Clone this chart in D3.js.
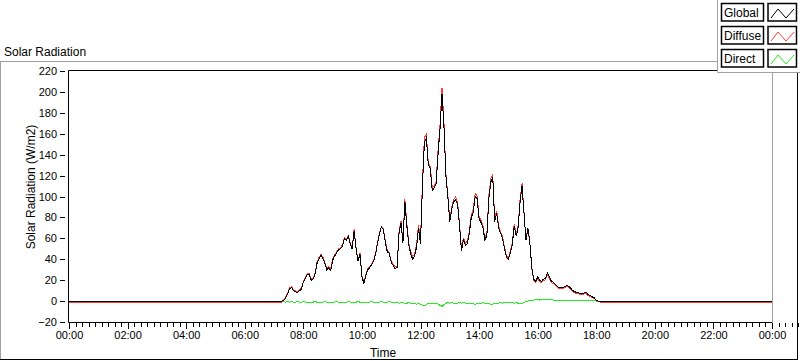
<!DOCTYPE html>
<meta charset="utf-8">
<style>
body { margin: 0; background: #fff; }
svg { display: block; font-family: "Liberation Sans", Arial, sans-serif; }
.tick text { fill: #000; }
</style>
<svg width="800" height="361"></svg>
<script src="https://d3js.org/d3.v7.min.js"></script>
<script>

// samples every 4 minutes, starting at 07:12
var dayStart = "07:12";
var stepMinutes = 4;

var globalDay = [
  0, 0, 1, 3, 7, 12, 13, 10, 9, 8, 10, 11,
  18, 22, 25, 25, 20, 21, 26, 36, 40, 44, 41, 36, 30, 32, 29,
  39, 43, 46, 49, 50, 52, 60, 58, 62, 55, 50, 67, 50, 38, 45,
  23, 17, 24, 30, 32, 35, 38, 45, 55, 64, 71, 68, 56, 47, 46,
  37, 34, 31, 32, 64, 75, 56, 95, 72, 54, 45, 40, 43, 52, 70,
  55, 110, 152, 156, 130, 127, 106, 108, 112, 141, 165, 198, 168, 120, 100,
  76, 88, 95, 97, 92, 72, 48, 59, 53, 55, 65, 80, 85, 100, 98,
  79, 75, 70, 58, 63, 98, 114, 118, 76, 84, 70, 65, 60, 50, 42,
  40, 46, 54, 72, 62, 70, 95, 110, 84, 58, 70, 56, 32, 21, 19,
  23, 20, 19, 21, 22, 27, 23, 19, 18, 16, 14, 13, 13, 13, 14,
  15, 14, 12, 10, 9, 8, 8, 7, 7, 8, 8, 6, 5, 4, 3,
  1, 0, 0, 0
];

var diffuseDay = [
  -1, -1, 1.5, 4, 7.5, 13, 13.5, 11, 10, 8.5, 11, 12,
  18.5, 23, 26, 26.5, 21, 22, 26.5, 37, 41.5, 45, 42, 36.5, 31, 33, 30.5,
  40, 44, 46.5, 50, 51, 53.5, 61, 59, 62.5, 56, 51, 68.5, 51, 38.5, 46,
  24, 18, 25.5, 31, 33, 35.5, 39, 46, 56.5, 65, 71.5, 69, 57.5, 48, 46.5,
  38, 35, 32.5, 33, 66, 76.5, 57, 97.5, 74, 55.5, 47, 42.5, 45, 55, 72.5,
  58, 114, 156.5, 159.5, 132, 129, 108.5, 110, 114, 144, 169, 204, 171.5, 122, 101.5,
  78, 89.5, 97, 99.5, 94, 73.5, 50, 60.5, 55, 57.5, 67, 82, 87.5, 103, 100.5,
  81, 77, 71.5, 60, 65, 100.5, 117, 121, 78, 86.5, 72, 66.5, 62, 51.5, 43.5,
  41, 47.5, 55.5, 74, 63.5, 72, 97.5, 112.5, 85.5, 58.5, 70, 55.5, 31, 20, 17.5,
  21.5, 19, 17.5, 19.5, 20.5, 25.5, 21.5, 17.5, 17, 15, 13, 12, 12, 12, 13,
  14, 13, 11, 9, 8, 7, 7, 6, 6, 7, 7, 5, 4, 3.5, 2.5,
  0.5, -0.5, -1, -1
];

var directDay = [
  0, 0, -0.5, -1, -0.5, -1, -0.5, -1, -1, -0.5, -1, -1,
  -0.5, -1, -1, -1.5, -1, -1, -0.5, -1, -1.5, -1, -1, -0.5, -1, -1, -1.5,
  -1, -1, -0.5, -1, -1, -1.5, -1, -1, -0.5, -1, -1, -1.5, -1, -0.5, -1,
  -1, -1, -1.5, -1, -1, -0.5, -1, -1, -1.5, -1, -0.5, -1, -1.5, -1, -0.5,
  -1, -1, -1.5, -1, -2, -1.5, -1, -2.5, -2, -1.5, -2, -2.5, -2, -3, -2.5,
  -3, -4, -4.5, -3.5, -2, -2, -2.5, -2, -2, -3, -4, -5, -3.5, -2, -1.5,
  -2, -1.5, -2, -2.5, -2, -1.5, -2, -1.5, -2, -2.5, -2, -2, -2.5, -3, -2.5,
  -2, -2, -1.5, -2, -2, -2.5, -3, -3, -2, -2.5, -2, -1.5, -2, -1.5, -1.5,
  -1, -1.5, -1.5, -2, -1.5, -2, -2.5, -2.5, -1.5, -0.5, 0, 0.5, 1, 1, 1.5,
  1.5, 1, 1.5, 1.5, 1.5, 1.5, 1.5, 1.5, 1, 1, 1, 1, 1, 1, 1,
  1, 1, 1, 1, 1, 1, 1, 1, 1, 1, 1, 1, 1, 0.5, 0.5,
  0, 0, 0, 0
];

// night-time readings
var nightGlobal = 0, nightDiffuse = -1, nightDirect = 0;

var seriesNames = ["Global", "Diffuse", "Direct"];
var seriesColors = ["#000000", "#ff3b3b", "#22ee22"];

var xTickHours = [0, 2, 4, 6, 8, 10, 12, 14, 16, 18, 20, 22, 24];
var xTickLabels = ["00:00", "02:00", "04:00", "06:00", "08:00", "10:00", "12:00",
                   "14:00", "16:00", "18:00", "20:00", "22:00", "00:00"];
var yTicks = [-20, 0, 20, 40, 60, 80, 100, 120, 140, 160, 180, 200, 220];

var svg = d3.select("svg"),
    plot = {left: 69, right: 772, top: 71, bottom: 322};

var x = d3.scaleLinear().domain([0, 24]).range([plot.left, plot.right]);
var y = d3.scaleLinear().domain([-20, 220]).range([plot.bottom, plot.top]);

var startHour = +dayStart.split(":")[0] + dayStart.split(":")[1] / 60;

function buildSeries(vals, night) {
  var pts = [{t: 0, v: night}];
  vals.forEach(function(v, i) { pts.push({t: startHour + i * stepMinutes / 60, v: v}); });
  pts.push({t: 24, v: night});
  return pts;
}

// panel frame
svg.append("line").attr("x1", 0).attr("x2", 717).attr("y1", 61.5).attr("y2", 61.5).attr("stroke", "#a0a0a0");
svg.append("line").attr("x1", 0.5).attr("x2", 0.5).attr("y1", 61).attr("y2", 360).attr("stroke", "#a0a0a0");
svg.append("line").attr("x1", 0).attr("x2", 798).attr("y1", 359.5).attr("y2", 359.5).attr("stroke", "#000");
svg.append("line").attr("x1", 797.5).attr("x2", 797.5).attr("y1", 72).attr("y2", 360).attr("stroke", "#000");

svg.append("text")
    .attr("x", 4).attr("y", 56)
    .attr("font-size", "12px")
    .text("Solar Radiation");

// plot area
svg.append("clipPath").attr("id", "clip")
  .append("rect")
    .attr("x", plot.left).attr("y", plot.top - 1)
    .attr("width", plot.right - plot.left).attr("height", plot.bottom - plot.top + 2);

var line = d3.line()
    .x(function(d) { return x(d.t); })
    .y(function(d) { return y(d.v); });

var series = [
  buildSeries(directDay, nightDirect),
  buildSeries(diffuseDay, nightDiffuse),
  buildSeries(globalDay, nightGlobal)
];
var drawColors = [seriesColors[2], seriesColors[1], seriesColors[0]];

svg.append("g")
    .attr("clip-path", "url(#clip)")
  .selectAll("path")
  .data(series)
  .enter().append("path")
    .attr("d", line)
    .attr("fill", "none")
    .attr("stroke", function(d, i) { return drawColors[i]; })
    .attr("stroke-width", 1)
    .attr("shape-rendering", "crispEdges");

// plot borders
svg.append("line").attr("x1", plot.left - 0.5).attr("x2", plot.right).attr("y1", plot.top - 0.5).attr("y2", plot.top - 0.5).attr("stroke", "#000");
svg.append("line").attr("x1", plot.left - 0.5).attr("x2", plot.left - 0.5).attr("y1", plot.top - 0.5).attr("y2", plot.bottom + 0.5).attr("stroke", "#000");
svg.append("line").attr("x1", plot.left - 0.5).attr("x2", plot.right + 0.5).attr("y1", plot.bottom + 0.5).attr("y2", plot.bottom + 0.5).attr("stroke", "#000");
svg.append("line").attr("x1", plot.right + 0.5).attr("x2", plot.right + 0.5).attr("y1", plot.top - 0.5).attr("y2", plot.bottom + 0.5).attr("stroke", "#a0a0a0");

// x axis: major + minor ticks
var minorHours = d3.range(0, 24 * 9 + 1).map(function(i) { return i * 2 / 9; })
    .filter(function(h, i) { return i % 9 !== 0; });

var xMinor = svg.append("g")
    .attr("transform", "translate(0," + (plot.bottom + 0.5) + ")")
    .call(d3.axisBottom(x).tickValues(minorHours).tickSize(4).tickFormat(""));
xMinor.select(".domain").remove();

var xAxis = svg.append("g")
    .attr("transform", "translate(0," + (plot.bottom + 0.5) + ")")
    .call(d3.axisBottom(x).tickValues(xTickHours).tickSize(6).tickPadding(3)
      .tickFormat(function(d, i) { return xTickLabels[i]; }));
xAxis.select(".domain").remove();
xAxis.selectAll("text").attr("font-size", "11px").attr("font-family", "Liberation Sans, Arial, sans-serif");

svg.selectAll(".tick line").attr("shape-rendering", "crispEdges");

// y axis
var yAxis = svg.append("g")
    .attr("transform", "translate(65,0)")
    .call(d3.axisLeft(y).tickValues(yTicks).tickSize(5).tickPadding(3));
yAxis.select(".domain").remove();
yAxis.selectAll("text").attr("font-size", "11px").attr("font-family", "Liberation Sans, Arial, sans-serif");
yAxis.selectAll(".tick line").attr("shape-rendering", "crispEdges");

svg.append("text")
    .attr("x", 383).attr("y", 357)
    .attr("text-anchor", "middle")
    .attr("font-size", "12px")
    .text("Time");

svg.append("text")
    .attr("transform", "translate(35,187) rotate(-90)")
    .attr("text-anchor", "middle")
    .attr("font-size", "12px")
    .text("Solar Radiation (W/m2)");

// legend
var legend = svg.append("g");
legend.append("rect")
    .attr("x", 717).attr("y", 0).attr("width", 83).attr("height", 72)
    .attr("fill", "#fff");
legend.append("line").attr("x1", 717.5).attr("x2", 717.5).attr("y1", 0).attr("y2", 72.5).attr("stroke", "#a0a0a0");
legend.append("line").attr("x1", 717.5).attr("x2", 800).attr("y1", 72.5).attr("y2", 72.5).attr("stroke", "#a0a0a0");

var item = legend.selectAll("g.item")
  .data(seriesNames)
  .enter().append("g")
    .attr("class", "item")
    .attr("transform", function(d, i) { return "translate(0," + (3.5 + i * 23) + ")"; });

item.append("rect")
    .attr("x", 721.5).attr("y", 0).attr("width", 42).attr("height", 17.5)
    .attr("fill", "#fff").attr("stroke", "#000").attr("stroke-width", 1.5);
item.append("text")
    .attr("x", 724).attr("y", 13.5)
    .attr("font-size", "12px")
    .text(function(d) { return d; });
item.append("rect")
    .attr("x", 768).attr("y", 0).attr("width", 28.5).attr("height", 17.5)
    .attr("fill", "#fff").attr("stroke", "#000").attr("stroke-width", 1.5);
item.append("path")
    .attr("d", "M771,14.5L778,5.5L786,14.5L794,5.5")
    .attr("fill", "none")
    .attr("stroke", function(d, i) { return seriesColors[i]; })
    .attr("stroke-width", 1);

</script>
